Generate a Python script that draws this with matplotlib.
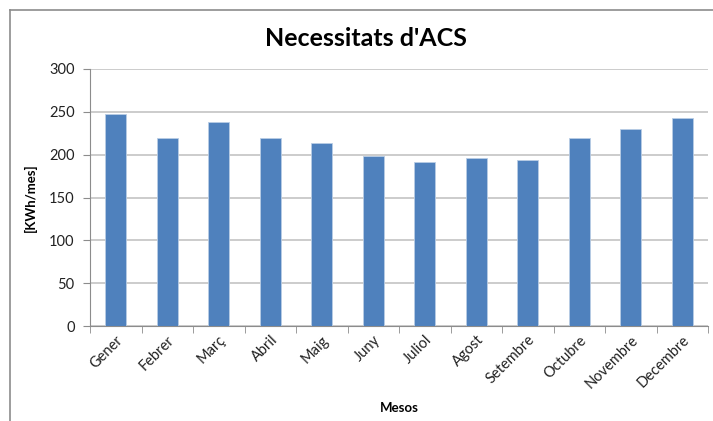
import matplotlib
matplotlib.use('Agg')
import matplotlib.pyplot as plt
import numpy as np
from matplotlib.lines import Line2D

# monthly hot water demand
mesos = ['Gener', 'Febrer', 'Març', 'Abril', 'Maig', 'Juny', 'Juliol',
         'Agost', 'Setembre', 'Octubre', 'Novembre', 'Decembre']
kwh = [247, 219, 238, 220, 214, 199, 192, 196, 194, 220, 230, 243]
y_ticks = [0, 50, 100, 150, 200, 250, 300]

plt.rcParams['font.family'] = ['Lato', 'DejaVu Sans']

fig = plt.figure(figsize=(7.13, 4.21), dpi=100)
ax = fig.add_axes([90/713, 95/421, 618/713, 257/421])

x = np.arange(len(mesos))
ax.bar(x, kwh, width=0.41, color='#4f81bd', edgecolor='#b9cde5', linewidth=0.6, zorder=3)

ax.set_xlim(-0.5, len(mesos) - 0.5)
ax.set_ylim(0, 300)
ax.set_yticks(y_ticks)
ax.yaxis.grid(True, color='#c4c4c4', linewidth=1.2, zorder=0)
ax.tick_params(axis='y', length=5, color='#8c8c8c', labelsize=10.5, labelcolor='#222222', pad=6)

# month names centred, ticks on the category boundaries
ax.set_xticks(x)
ax.set_xticklabels(mesos, rotation=45, ha='right', rotation_mode='anchor', fontsize=10.5, color='#222222')
ax.tick_params(axis='x', length=0, pad=5)
ax.set_xticks(np.arange(-0.5, len(mesos)), minor=True)
ax.tick_params(axis='x', which='minor', length=5, color='#8c8c8c')

for side in ['top', 'right']:
    ax.spines[side].set_visible(False)
for side in ['left', 'bottom']:
    ax.spines[side].set_color('#8c8c8c')

ax.set_ylabel('[KWh/mes]', fontsize=9.5, fontweight='bold', labelpad=9)
ax.set_xlabel('Mesos', fontsize=9.5, fontweight='bold', labelpad=8)
fig.text(366/713, 1 - 38/421, "Necessitats d'ACS", ha='center', va='center',
         fontsize=18, fontweight='bold')

# chart frame
fig.add_artist(Line2D([10/713, 10/713], [0, 1 - 10/421], transform=fig.transFigure,
                      color='#8c8c8c', linewidth=1.2))
fig.add_artist(Line2D([10/713, 1], [1 - 10/421, 1 - 10/421], transform=fig.transFigure,
                      color='#8c8c8c', linewidth=1.2))

fig.savefig('out.png', dpi=100)
